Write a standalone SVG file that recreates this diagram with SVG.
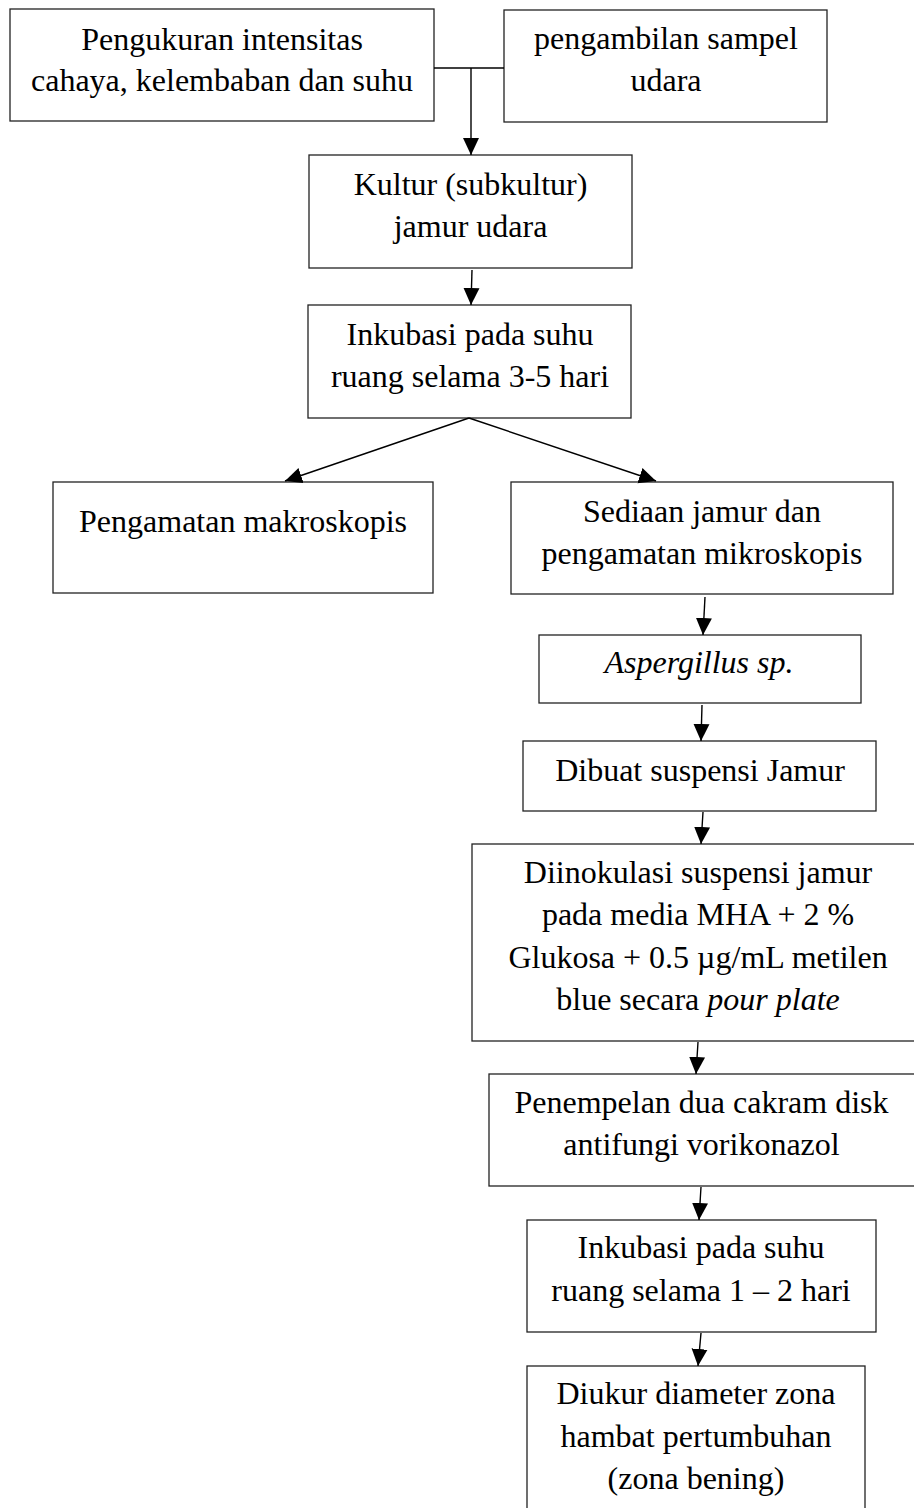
<svg xmlns="http://www.w3.org/2000/svg" width="914" height="1508" viewBox="0 0 914 1508">
<style>
rect{fill:#fff;stroke:#222;stroke-width:1.3}
text{font-family:"Liberation Serif","Times New Roman",serif;font-size:32px;fill:#000;text-anchor:middle}
.it{font-style:italic}
#connectors line,#connectors polyline{stroke:#000;stroke-width:1.4;fill:none}
</style>
<defs>
<marker id="arr" markerUnits="userSpaceOnUse" markerWidth="18" markerHeight="18" viewBox="0 0 18 18" refX="17" refY="9" orient="auto">
<path d="M0,1 L17,9 L0,17 Z" fill="#000"/>
</marker>
</defs>
<g id="n1"><rect x="10" y="9" width="424" height="112"/><text x="222" y="49.5">Pengukuran intensitas</text><text x="222" y="91">cahaya, kelembaban dan suhu</text></g>
<g id="n2"><rect x="504" y="10" width="323" height="112"/><text x="666" y="49">pengambilan sampel</text><text x="666" y="90.5">udara</text></g>
<g id="n3"><rect x="309" y="155" width="323" height="113"/><text x="470.5" y="195">Kultur (subkultur)</text><text x="470.5" y="237">jamur udara</text></g>
<g id="n4"><rect x="308" y="305" width="323" height="113"/><text x="470" y="345">Inkubasi pada suhu</text><text x="470" y="387">ruang selama 3-5 hari</text></g>
<g id="n5"><rect x="53" y="482" width="380" height="111"/><text x="243" y="532">Pengamatan makroskopis</text></g>
<g id="n6"><rect x="511" y="482" width="382" height="112"/><text x="702" y="522">Sediaan jamur dan</text><text x="702" y="564">pengamatan mikroskopis</text></g>
<g id="n7"><rect x="539" y="635" width="322" height="68"/><text class="it" x="699" y="673">Aspergillus sp.</text></g>
<g id="n8"><rect x="523" y="741" width="353" height="70"/><text x="700" y="781">Dibuat suspensi Jamur</text></g>
<g id="n9"><rect x="472" y="844" width="460" height="197"/><text x="698" y="883">Diinokulasi suspensi jamur</text><text x="698" y="925">pada media MHA + 2 %</text><text x="698" y="968">Glukosa + 0.5 µg/mL metilen</text><text x="698" y="1010">blue secara <tspan class="it">pour plate</tspan></text></g>
<g id="n10"><rect x="489" y="1074" width="440" height="112"/><text x="701.5" y="1113">Penempelan dua cakram disk</text><text x="701.5" y="1155">antifungi vorikonazol</text></g>
<g id="n11"><rect x="527" y="1220" width="349" height="112"/><text x="701" y="1258">Inkubasi pada suhu</text><text x="701" y="1301">ruang selama 1 – 2 hari</text></g>
<g id="n12"><rect x="527" y="1366" width="338" height="170"/><text x="696" y="1404">Diukur diameter zona</text><text x="696" y="1447">hambat pertumbuhan</text><text x="696" y="1489">(zona bening)</text></g>
<g id="connectors">
<line x1="434" y1="68" x2="504" y2="68"/>
<line x1="471" y1="68" x2="471" y2="155" marker-end="url(#arr)"/>
<line x1="472" y1="270" x2="471" y2="305" marker-end="url(#arr)"/>
<line x1="469" y1="418" x2="285" y2="481" marker-end="url(#arr)"/>
<line x1="469" y1="418" x2="656" y2="481" marker-end="url(#arr)"/>
<line x1="705" y1="597" x2="703" y2="635" marker-end="url(#arr)"/>
<line x1="702" y1="705" x2="701" y2="741" marker-end="url(#arr)"/>
<line x1="703" y1="812" x2="701" y2="844" marker-end="url(#arr)"/>
<line x1="698" y1="1042" x2="696" y2="1074" marker-end="url(#arr)"/>
<line x1="701" y1="1187" x2="699" y2="1220" marker-end="url(#arr)"/>
<line x1="701" y1="1333" x2="698" y2="1366" marker-end="url(#arr)"/>
</g>
</svg>
